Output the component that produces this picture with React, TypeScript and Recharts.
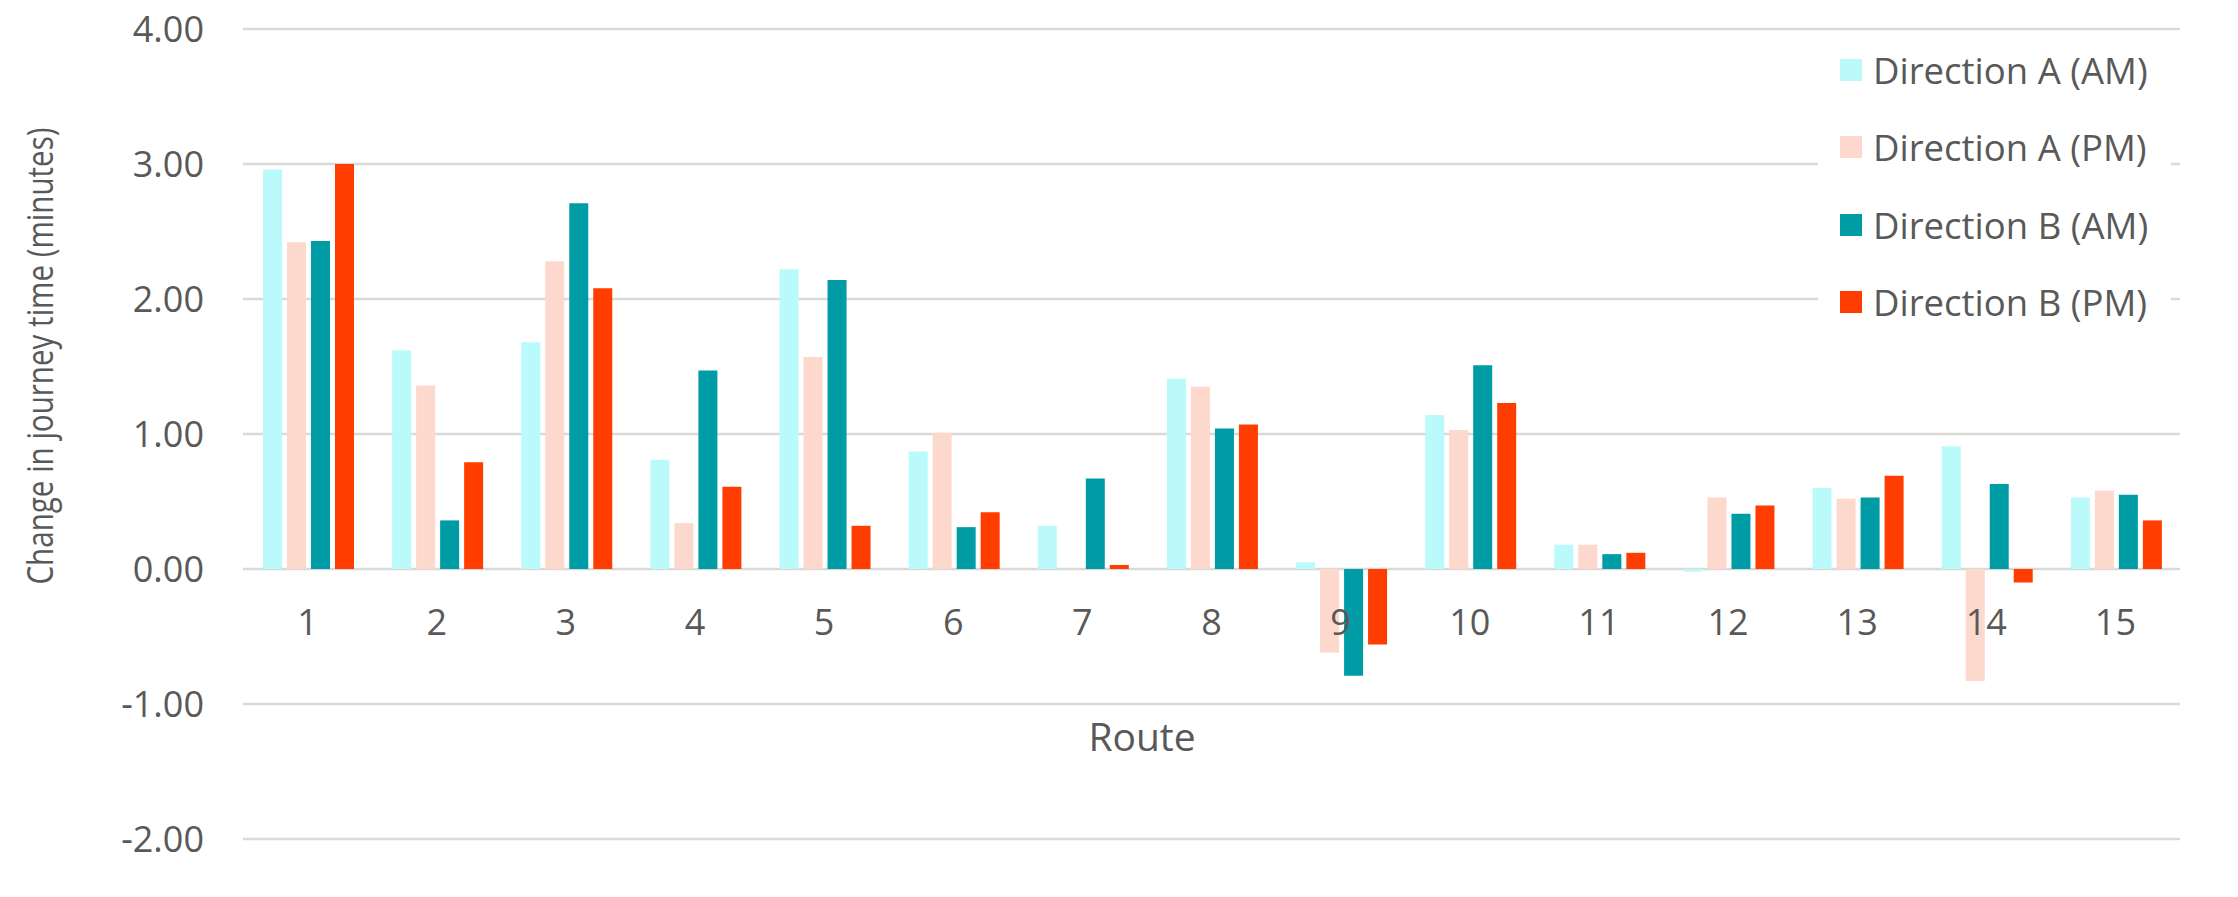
import { Bar, BarChart, CartesianGrid, Legend, XAxis, YAxis } from 'recharts';

const routes = ['1', '2', '3', '4', '5', '6', '7', '8', '9', '10', '11', '12', '13', '14', '15'];
const dirAAm = [2.96, 1.62, 1.68, 0.81, 2.22, 0.87, 0.32, 1.41, 0.05, 1.14, 0.18, -0.02, 0.6, 0.91, 0.53];
const dirAPm = [2.42, 1.36, 2.28, 0.34, 1.57, 1.01, 0, 1.35, -0.62, 1.03, 0.18, 0.53, 0.52, -0.83, 0.58];
const dirBAm = [2.43, 0.36, 2.71, 1.47, 2.14, 0.31, 0.67, 1.04, -0.79, 1.51, 0.11, 0.41, 0.53, 0.63, 0.55];
const dirBPm = [3.0, 0.79, 2.08, 0.61, 0.32, 0.42, 0.03, 1.07, -0.56, 1.23, 0.12, 0.47, 0.69, -0.1, 0.36];
const yTicks = [-2, -1, 0, 1, 2, 3, 4];

const data = routes.map((route, i) => ({
  route,
  aAm: dirAAm[i],
  aPm: dirAPm[i],
  bAm: dirBAm[i],
  bPm: dirBPm[i],
}));

const W = 2238;
const H = 897;
const PLOT_TOP = 29;
const PLOT_BOTTOM = 839;
const Y_MIN = -2;
const Y_MAX = 4;
const TEXT = '#595959';
const FONT = '"Open Sans", sans-serif';

// Excel draws the category labels next to the zero line, not at the bottom
function RouteTick({ x, payload }: any) {
  const zeroY = PLOT_TOP + (Y_MAX / (Y_MAX - Y_MIN)) * (PLOT_BOTTOM - PLOT_TOP);
  return (
    <text x={x} y={zeroY + 66} textAnchor="middle" fill={TEXT} fontSize={36} fontFamily={FONT}>
      {payload.value}
    </text>
  );
}

function LegendBox({ payload }: any) {
  return (
    <div style={{ background: '#fff', padding: '0 0 0 22px', height: '100%', boxSizing: 'border-box' }}>
      {(payload || []).map((p: any) => (
        <div key={p.value} style={{ height: 77.5, display: 'flex', alignItems: 'center' }}>
          <span style={{ width: 22, height: 22, background: p.color, marginRight: 11, flex: 'none' }} />
          <span style={{ color: TEXT, fontSize: 36.5, fontFamily: FONT, whiteSpace: 'nowrap' }}>{p.value}</span>
        </div>
      ))}
    </div>
  );
}

export default function App() {
  return (
    <div style={{ position: 'absolute', left: 0, top: 0, width: W, height: H, background: '#fff' }}>
      <BarChart
        width={W}
        height={H}
        data={data}
        margin={{ top: PLOT_TOP, right: 58, bottom: 0, left: 0 }}
        barCategoryGap={20}
        barGap={5}
      >
        <CartesianGrid stroke="#D9D9D9" strokeWidth={2.5} vertical={false} />
        <YAxis
          width={243}
          domain={[Y_MIN, Y_MAX]}
          ticks={yTicks}
          interval={0}
          axisLine={false}
          tickLine={false}
          tickSize={0}
          tickMargin={39}
          tickFormatter={(v: number) => v.toFixed(2)}
          tick={{ fill: TEXT, fontSize: 36, fontFamily: FONT }}
        />
        <Bar dataKey="aAm" name="Direction A (AM)" fill="#BAFAFB" isAnimationActive={false} />
        <Bar dataKey="aPm" name="Direction A (PM)" fill="#FDD8CD" isAnimationActive={false} />
        <Bar dataKey="bAm" name="Direction B (AM)" fill="#009CA6" isAnimationActive={false} />
        <Bar dataKey="bPm" name="Direction B (PM)" fill="#FF3D00" isAnimationActive={false} />
        <XAxis
          dataKey="route"
          height={H - PLOT_BOTTOM}
          axisLine={false}
          tickLine={false}
          interval={0}
          tick={<RouteTick />}
        />
        <Legend
          layout="vertical"
          align="center"
          verticalAlign="middle"
          content={<LegendBox />}
          wrapperStyle={{ left: 1818, top: 31, width: 353, height: 310 }}
        />
      </BarChart>
      <svg width={W} height={H} style={{ position: 'absolute', left: 0, top: 0, pointerEvents: 'none' }}>
        <text
          transform="translate(53, 356) rotate(-90)"
          textAnchor="middle"
          fill={TEXT}
          fontSize={36}
          fontFamily={FONT}
          textLength={457}
          lengthAdjust="spacingAndGlyphs"
        >
          Change in journey time (minutes)
        </text>
        <text x={1142} y={751} textAnchor="middle" fill={TEXT} fontSize={39} fontFamily={FONT}>
          Route
        </text>
      </svg>
    </div>
  );
}
